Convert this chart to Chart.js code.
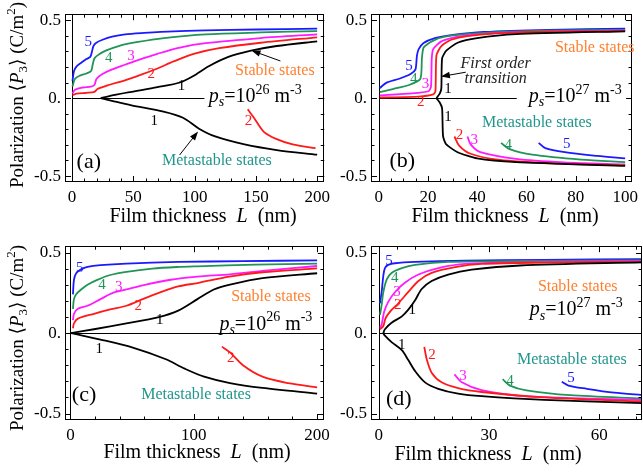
<!DOCTYPE html>
<html>
<head>
<meta charset="utf-8">
<script src="https://cdn.jsdelivr.net/npm/chart.js@4.4.0/dist/chart.umd.min.js"></script>
<style>
  body { margin: 0; background: #fff; }
  #wrap { position: relative; width: 643px; height: 472px; overflow: hidden; background: #fff; }
  canvas { position: absolute; }
</style>
</head>
<body>
<div id="wrap">
  <canvas id="chartA" width="335" height="232" style="left:0;top:0"></canvas>
  <canvas id="chartB" width="308" height="232" style="left:335px;top:0"></canvas>
  <canvas id="chartC" width="335" height="240" style="left:0;top:232px"></canvas>
  <canvas id="chartD" width="308" height="240" style="left:335px;top:232px"></canvas>
</div>
<script>
// --- colors ---
const BLUE = "#1a1aff", GREEN = "#1f9556", MAGENTA = "#ff1aff", RED = "#ff1a1a", BLACK = "#000";
const ORANGE = "#ff8030", TEAL = "#1f968c";
const FONT = '"Liberation Serif", "DejaVu Serif", serif';

// --- tick labels ---
const yTicks = [-0.5, 0, 0.5];
const xTicksA = [0, 50, 100, 150, 200];
const xTicksB = [0, 20, 40, 60, 80, 100];
const xTicksC = [0, 100, 200];
const xTicksD = [0, 30, 60];

// --- panel (a): ps = 1e26, L up to 200 nm ---
const a5L = [0.3, 1.6, 3.7, 7.7, 11.6, 14.8, 16.1, 17.4, 19.5, 24.8, 32.7, 43.2, 59, 82.8, 109, 150, 200];
const a5P = [0.11, 0.174, 0.204, 0.228, 0.25, 0.264, 0.294, 0.334, 0.354, 0.374, 0.394, 0.409, 0.418, 0.428, 0.434, 0.44, 0.445];
const a4L = [0.3, 2.4, 6.3, 11.6, 15.5, 16.8, 18.2, 20.8, 27.4, 38, 53.8, 74.9, 109, 154, 200];
const a4P = [0.074, 0.124, 0.144, 0.158, 0.174, 0.214, 0.254, 0.274, 0.304, 0.334, 0.36, 0.385, 0.409, 0.421, 0.43];
const a3L = [0.3, 2.4, 8.9, 15.5, 18.2, 20, 24.8, 32.7, 43.2, 53.8, 69.6, 88, 109, 154, 200];
const a3P = [0.03, 0.054, 0.068, 0.074, 0.084, 0.124, 0.154, 0.184, 0.214, 0.244, 0.284, 0.324, 0.352, 0.385, 0.409];
const a2L = [0.3, 3.7, 11.6, 18.2, 20.8, 30, 43.2, 56.4, 69.6, 82.8, 100, 120, 154, 200];
const a2P = [0.018, 0.028, 0.034, 0.04, 0.058, 0.084, 0.114, 0.15, 0.19, 0.235, 0.285, 0.32, 0.355, 0.39];
const a1L = [23.4, 35, 48.5, 69.6, 88, 98.6, 111.5, 127.5, 146, 167, 200];
const a1P = [0, 0.02, 0.04, 0.07, 0.1, 0.14, 0.204, 0.264, 0.304, 0.334, 0.364];
const a1mL = [23.4, 35, 48.5, 74.6, 90.5, 103.6, 116.8, 140.7, 167, 200];
const a1mP = [0, -0.022, -0.046, -0.087, -0.126, -0.196, -0.246, -0.297, -0.333, -0.363];
const a2mL = [143.3, 148.4, 156.5, 167, 180, 198.7];
const a2mP = [-0.072, -0.126, -0.216, -0.263, -0.297, -0.321];

// --- panel (b): ps = 1e27, L up to 100 nm ---
const b5L = [0.4, 3, 8.3, 12.9, 14.9, 15.5, 16.2, 18.2, 22.8, 29.4, 42.6, 68.9, 100];
const b5P = [0.064, 0.098, 0.124, 0.154, 0.184, 0.274, 0.314, 0.354, 0.385, 0.404, 0.424, 0.438, 0.445];
const b4L = [0.4, 5.7, 12.3, 16.9, 17.5, 18.2, 21.5, 26.8, 42.6, 70, 100];
const b4P = [0.038, 0.058, 0.084, 0.124, 0.254, 0.324, 0.364, 0.394, 0.418, 0.432, 0.438];
const b3L = [0.4, 13.6, 20.2, 21.2, 21.5, 22.1, 25.4, 32, 49.1, 75, 100];
const b3P = [0.018, 0.03, 0.044, 0.074, 0.254, 0.314, 0.364, 0.394, 0.418, 0.428, 0.434];
const b2L = [0.4, 16.2, 22.1, 23, 23.4, 25.4, 29.4, 36, 55.7, 100];
const b2P = [0.004, 0.01, 0.024, 0.044, 0.274, 0.334, 0.374, 0.398, 0.422, 0.43];
const b1L = [23.4, 24.8, 25.4, 25.7, 27.4, 32, 39.9, 55.7, 100];
const b1P = [0, 0.03, 0.064, 0.254, 0.304, 0.355, 0.385, 0.41, 0.428];
const b1mL = [23.4, 24.8, 25.7, 26.1, 27.4, 32, 39.9, 55.7, 100];
const b1mP = [0, -0.03, -0.066, -0.246, -0.297, -0.347, -0.387, -0.411, -0.435];
const b2mL = [30.7, 32.7, 37.3, 49.1, 70, 100];
const b2mP = [-0.246, -0.306, -0.357, -0.397, -0.418, -0.43];
const b3mL = [36, 37.3, 41.2, 55.7, 75, 100];
const b3mP = [-0.246, -0.297, -0.347, -0.39, -0.412, -0.425];
const b4mL = [49.6, 53.1, 62.3, 82.1, 100];
const b4mP = [-0.287, -0.327, -0.363, -0.395, -0.41];
const b5mL = [64.9, 67.6, 75.5, 88.7, 100];
const b5mP = [-0.287, -0.321, -0.347, -0.371, -0.387];

// --- panel (c): ps = 1e26 ---
const c5L = [2.1, 2.9, 4.7, 8.7, 13.9, 24.4, 45.4, 87.4, 140, 200];
const c5P = [0.241, 0.331, 0.372, 0.396, 0.411, 0.422, 0.432, 0.442, 0.447, 0.452];
const c4L = [2.1, 2.9, 4.7, 8.7, 13.9, 21.8, 32.3, 45.4, 66.4, 87.4, 103, 150, 200];
const c4P = [0.151, 0.211, 0.241, 0.271, 0.301, 0.331, 0.361, 0.381, 0.401, 0.411, 0.415, 0.425, 0.432];
const c3L = [2.1, 2.9, 6.1, 13.9, 24.4, 34.9, 45.4, 61.2, 80, 103, 129.4, 160, 200];
const c3P = [0.08, 0.12, 0.151, 0.17, 0.211, 0.251, 0.271, 0.301, 0.33, 0.351, 0.365, 0.39, 0.417];
const c2L = [2.1, 2.9, 6.1, 19.1, 32.3, 45.4, 58.5, 71.7, 87.4, 103, 129, 155.7, 200];
const c2P = [0.03, 0.06, 0.09, 0.12, 0.147, 0.17, 0.211, 0.25, 0.29, 0.311, 0.351, 0.378, 0.402];
const c1L = [0.5, 19.1, 45.4, 71.7, 87.4, 103, 116.3, 129.4, 155.7, 200];
const c1P = [0, 0.024, 0.06, 0.1, 0.14, 0.211, 0.271, 0.301, 0.341, 0.372];
const c1mL = [0.5, 24.4, 50.6, 76.9, 92.7, 108.4, 129.4, 155.7, 200];
const c1mP = [0, -0.04, -0.09, -0.161, -0.221, -0.271, -0.311, -0.341, -0.376];
const c2mL = [122.8, 129.4, 139.9, 155.7, 176.6, 200];
const c2mP = [-0.084, -0.12, -0.2, -0.271, -0.311, -0.337];

// --- panel (d): ps = 1e27 ---
const d5L = [0.35, 0.8, 1.25, 1.7, 2.6, 4.4, 9.9, 23.5, 45, 72];
const d5P = [0.184, 0.254, 0.354, 0.404, 0.424, 0.434, 0.442, 0.45, 0.455, 0.46];
const d4L = [0.35, 0.8, 1.25, 2.2, 3.5, 6.3, 9.9, 18.9, 40, 72];
const d4P = [0.114, 0.174, 0.254, 0.334, 0.374, 0.404, 0.424, 0.442, 0.448, 0.452];
const d3L = [0.35, 0.8, 1.5, 2.6, 4.4, 7.2, 10.8, 16.2, 23.5, 45, 72];
const d3P = [0.034, 0.054, 0.134, 0.194, 0.254, 0.314, 0.364, 0.404, 0.43, 0.442, 0.447];
const d2L = [0.35, 1.25, 1.9, 3.5, 5.3, 8, 10.8, 14.4, 20.8, 28, 45, 72];
const d2P = [0.024, 0.044, 0.094, 0.144, 0.184, 0.254, 0.324, 0.374, 0.41, 0.43, 0.438, 0.443];
const d1L = [1.25, 1.7, 3.5, 6.3, 8, 9.9, 11.7, 14.4, 18.9, 25.3, 38.4, 72];
const d1P = [0, 0.024, 0.064, 0.104, 0.144, 0.204, 0.274, 0.324, 0.364, 0.394, 0.42, 0.44];
const d1mL = [1.25, 1.7, 3.5, 6.3, 8, 9.9, 12.6, 16.2, 21.6, 28, 45, 72];
const d1mP = [0, -0.016, -0.056, -0.106, -0.166, -0.236, -0.306, -0.346, -0.376, -0.392, -0.415, -0.436];
const d2mL = [12.4, 13.1, 14.4, 17.1, 21.6, 28, 45, 72];
const d2mP = [-0.086, -0.166, -0.246, -0.306, -0.342, -0.366, -0.4, -0.426];
const d3mL = [20.6, 22.6, 28, 38.4, 55, 72];
const d3mP = [-0.256, -0.306, -0.355, -0.39, -0.405, -0.416];
const d4mL = [33.7, 35.7, 40.2, 52, 72];
const d4mP = [-0.286, -0.326, -0.356, -0.386, -0.406];
const d5mL = [49.8, 51.6, 56.6, 64, 72];
const d5mP = [-0.302, -0.326, -0.346, -0.37, -0.386];

// --- helpers ---
function line(xs, ys, color, tension) {
  return {
    data: xs.map((v, i) => ({ x: v, y: ys[i] })),
    borderColor: color, showLine: true, pointRadius: 0,
    borderWidth: 1.8, tension: tension
  };
}

// text in pieces: strings or {t, i: italic, sub, sup}
function richText(ctx, x, y, parts, size, color, align) {
  const list = parts.map(p => typeof p === "string" ? { t: p } : Object.assign({}, p));
  const font = p => `${p.i ? "italic " : ""}${(p.sub || p.sup) ? Math.round(size * 0.68) : size}px ${FONT}`;
  let w = 0;
  list.forEach(p => { ctx.font = font(p); p.w = ctx.measureText(p.t).width; w += p.w; });
  let cx = align === "center" ? x - w / 2 : x;
  ctx.fillStyle = color;
  ctx.textAlign = "left";
  ctx.textBaseline = "alphabetic";
  list.forEach(p => {
    ctx.font = font(p);
    const dy = p.sub ? size * 0.22 : p.sup ? -size * 0.42 : 0;
    ctx.fillText(p.t, cx, y + dy);
    cx += p.w;
  });
}

function arrow(ctx, x1, y1, x2, y2) {
  const ang = Math.atan2(y2 - y1, x2 - x1);
  ctx.strokeStyle = "#000"; ctx.fillStyle = "#000"; ctx.lineWidth = 1;
  ctx.beginPath(); ctx.moveTo(x1, y1); ctx.lineTo(x2 - 6 * Math.cos(ang), y2 - 6 * Math.sin(ang)); ctx.stroke();
  ctx.beginPath();
  ctx.moveTo(x2, y2);
  ctx.lineTo(x2 - 9 * Math.cos(ang) + 3.2 * Math.sin(ang), y2 - 9 * Math.sin(ang) - 3.2 * Math.cos(ang));
  ctx.lineTo(x2 - 9 * Math.cos(ang) - 3.2 * Math.sin(ang), y2 - 9 * Math.sin(ang) + 3.2 * Math.cos(ang));
  ctx.closePath(); ctx.fill();
}

const isMul = (v, m) => Math.abs(v / m - Math.round(v / m)) < 1e-6;

// annotation setup per canvas (kept outside chart options, the option proxy mangles mixed arrays)
const decor = {};

// --- frame, axes, ticks and labels (Mathematica style) ---
const framePlugin = {
  id: "frame",
  beforeDatasetsDraw(chart) {
    const o = decor[chart.canvas.id];
    const { ctx, chartArea: a, scales: { x, y } } = chart;
    const x0 = Math.round(x.getPixelForValue(0)) + 0.5;
    const y0 = Math.round(y.getPixelForValue(0)) + 0.5;
    ctx.save();
    ctx.strokeStyle = "#000"; ctx.lineWidth = 1;
    ctx.beginPath();
    ctx.moveTo(x0, a.top); ctx.lineTo(x0, a.bottom);
    ctx.moveTo(x0, y0); ctx.lineTo(o.zeroEnd != null ? x.getPixelForValue(o.zeroEnd) : a.right, y0);
    ctx.stroke();
    ctx.restore();
  },
  afterDraw(chart) {
    const o = decor[chart.canvas.id];
    const { ctx, chartArea: a, scales: { x, y } } = chart;
    ctx.save();
    ctx.strokeStyle = "#000"; ctx.lineWidth = 1;
    ctx.strokeRect(Math.round(a.left) + 0.5, Math.round(a.top) + 0.5, Math.round(a.right - a.left) - 1, Math.round(a.bottom - a.top) - 1);
    ctx.beginPath();
    for (let v = 0; v <= o.xEnd + 1e-9; v += o.xMinor) {
      const px = Math.round(x.getPixelForValue(v)) + 0.5;
      const len = isMul(v, o.xMajor) ? 6 : 3.5;
      ctx.moveTo(px, a.bottom); ctx.lineTo(px, a.bottom - len);
      ctx.moveTo(px, a.top); ctx.lineTo(px, a.top + len);
    }
    for (let k = -5; k <= 5; k++) {
      const py = Math.round(y.getPixelForValue(k / 10)) + 0.5;
      const len = k % 5 === 0 ? 6 : 3.5;
      ctx.moveTo(a.left, py); ctx.lineTo(a.left + len, py);
      ctx.moveTo(a.right, py); ctx.lineTo(a.right - len, py);
    }
    ctx.stroke();

    // curve numbers
    ctx.textAlign = "center"; ctx.textBaseline = "middle";
    ctx.font = `15px ${FONT}`;
    o.nums.forEach(n => {
      ctx.fillStyle = n.c;
      ctx.fillText(n.t, x.getPixelForValue(n.x), y.getPixelForValue(n.y));
    });

    // annotation texts (anchored in data units)
    o.texts.forEach(t => {
      richText(ctx, x.getPixelForValue(t.x), y.getPixelForValue(t.y), t.parts, t.size, t.color, "left");
    });
    (o.arrows || []).forEach(r => {
      arrow(ctx, x.getPixelForValue(r[0]), y.getPixelForValue(r[1]), x.getPixelForValue(r[2]), y.getPixelForValue(r[3]));
    });

    // axis titles
    richText(ctx, o.xTitle[0], o.xTitle[1], ["Film thickness  ", { t: "L", i: true }, "  (nm)"], 20, "#000", "center");
    if (o.yTitle) {
      ctx.translate(o.yTitle[0], o.yTitle[1]);
      ctx.rotate(-Math.PI / 2);
      richText(ctx, 0, 0, ["Polarization \u27E8", { t: "P", i: true }, { t: "3", sub: true }, "\u27E9 (C/m", { t: "2", sup: true }, ")"], 19, "#000", "center");
    }
    ctx.restore();
  }
};

function makeChart(id, datasets, cfg) {
  decor[id] = cfg.frame;
  new Chart(document.getElementById(id), {
    type: "scatter",
    data: { datasets },
    plugins: [framePlugin],
    options: {
      responsive: false,
      animation: false,
      layout: { padding: { top: cfg.padTop, right: cfg.padRight, left: 0, bottom: 0 } },
      plugins: { legend: { display: false }, tooltip: { enabled: false } },
      scales: {
        x: {
          type: "linear", min: cfg.xMin, max: cfg.xMax,
          grid: { display: false, drawTicks: false }, border: { display: false },
          ticks: { color: "#000", font: { family: FONT, size: 17 }, padding: 5 },
          afterBuildTicks: s => { s.ticks = cfg.xTicks.map(v => ({ value: v })); },
          afterFit: s => { s.height = cfg.xAxisH; }
        },
        y: {
          type: "linear", min: cfg.yMin, max: cfg.yMax,
          grid: { display: false, drawTicks: false }, border: { display: false },
          ticks: { color: "#000", font: { family: FONT, size: 17 }, padding: 4,
                   callback: v => v === 0 ? "0." : String(v) },
          afterBuildTicks: s => { s.ticks = yTicks.map(v => ({ value: v })); },
          afterFit: s => { s.width = cfg.yAxisW; }
        }
      }
    }
  });
}

const ps26 = [{ t: "p", i: true }, { t: "s", i: true, sub: true }, "=10", { t: "26", sup: true }, " m", { t: "-3", sup: true }];
const ps27 = [{ t: "p", i: true }, { t: "s", i: true, sub: true }, "=10", { t: "27", sup: true }, " m", { t: "-3", sup: true }];

// --- (a) ---
makeChart("chartA", [
  line(a1L, a1P, BLACK, 0.3), line(a1mL, a1mP, BLACK, 0.3), line(a2mL, a2mP, RED, 0.3),
  line(a2L, a2P, RED, 0.3), line(a3L, a3P, MAGENTA, 0.3), line(a4L, a4P, GREEN, 0.3), line(a5L, a5P, BLUE, 0.3)
], {
  padTop: 3, padRight: 3, xAxisH: 50, yAxisW: 65,
  xMin: -5.78, xMax: 205.8, yMin: -0.538, yMax: 0.538, xTicks: xTicksA,
  frame: {
    xEnd: 200, xMinor: 10, xMajor: 50, zeroEnd: 108,
    xTitle: [203, 222], yTitle: [23, 95],
    nums: [
      { t: "5", x: 13.2, y: 0.36, c: BLUE }, { t: "4", x: 29.9, y: 0.256, c: GREEN },
      { t: "3", x: 48.1, y: 0.269, c: MAGENTA }, { t: "2", x: 64.7, y: 0.154, c: RED },
      { t: "1", x: 89.3, y: 0.075, c: BLACK }, { t: "1", x: 67.1, y: -0.148, c: BLACK },
      { t: "2", x: 144, y: -0.148, c: RED }
    ],
    texts: [
      { x: 133, y: 0.146, parts: ["Stable states"], size: 16, color: ORANGE },
      { x: 111.5, y: -0.025, parts: ps26, size: 20, color: "#000" },
      { x: 73.4, y: -0.427, parts: ["Metastable states"], size: 16, color: TEAL },
      { x: 3.7, y: -0.448, parts: ["(a)"], size: 22, color: "#000" }
    ],
    arrows: [[170, 0.238, 146.4, 0.305], [87.7, -0.365, 102.8, -0.214]]
  }
});

// --- (b) ---
makeChart("chartB", [
  line(b1L, b1P, BLACK, 0.2), line(b1mL, b1mP, BLACK, 0.2),
  line(b2mL, b2mP, RED, 0.3), line(b3mL, b3mP, MAGENTA, 0.3), line(b4mL, b4mP, GREEN, 0.3), line(b5mL, b5mP, BLUE, 0.3),
  line(b2L, b2P, RED, 0.2), line(b3L, b3P, MAGENTA, 0.2), line(b4L, b4P, GREEN, 0.2), line(b5L, b5P, BLUE, 0.2)
], {
  padTop: 3, padRight: 4, xAxisH: 50, yAxisW: 36,
  xMin: -3.16, xMax: 102.8, yMin: -0.538, yMax: 0.538, xTicks: xTicksB,
  frame: {
    xEnd: 100, xMinor: 5, xMajor: 20, zeroEnd: 56,
    xTitle: [170, 222], yTitle: null,
    nums: [
      { t: "5", x: 12.3, y: 0.208, c: BLUE }, { t: "4", x: 14.2, y: 0.124, c: GREEN },
      { t: "3", x: 19, y: 0.088, c: MAGENTA }, { t: "2", x: 17, y: -0.027, c: RED },
      { t: "1", x: 28.1, y: 0.057, c: BLACK }, { t: "1", x: 28.1, y: -0.124, c: BLACK },
      { t: "2", x: 32.8, y: -0.238, c: RED }, { t: "3", x: 38.7, y: -0.269, c: MAGENTA },
      { t: "4", x: 52.6, y: -0.299, c: GREEN }, { t: "5", x: 76.3, y: -0.293, c: BLUE }
    ],
    texts: [
      { x: 71.5, y: 0.293, parts: ["Stable states"], size: 16, color: ORANGE },
      { x: 60.9, y: -0.025, parts: ps27, size: 20, color: "#000" },
      { x: 41.9, y: -0.186, parts: ["Metastable states"], size: 16, color: TEAL },
      { x: 33.2, y: 0.19, parts: [{ t: "First order", i: true }], size: 16, color: "#222" },
      { x: 34.8, y: 0.094, parts: [{ t: "transition", i: true }], size: 16, color: "#222" },
      { x: 4.3, y: -0.442, parts: ["(b)"], size: 22, color: "#000" }
    ],
    arrows: [[35.3, 0.166, 25.2, 0.138]]
  }
});

// --- (c) ---
makeChart("chartC", [
  line(c1L, c1P, BLACK, 0.3), line(c1mL, c1mP, BLACK, 0.3), line(c2mL, c2mP, RED, 0.3),
  line(c2L, c2P, RED, 0.3), line(c3L, c3P, MAGENTA, 0.3), line(c4L, c4P, GREEN, 0.3), line(c5L, c5P, BLUE, 0.3)
], {
  padTop: 8, padRight: 5, xAxisH: 52, yAxisW: 65,
  xMin: -4.36, xMax: 205.5, yMin: -0.54, yMax: 0.54, xTicks: xTicksC,
  frame: {
    xEnd: 200, xMinor: 20, xMajor: 100, zeroEnd: null,
    xTitle: [197, 226], yTitle: [23, 106],
    nums: [
      { t: "5", x: 7.5, y: 0.402, c: BLUE }, { t: "4", x: 25.7, y: 0.3, c: GREEN },
      { t: "3", x: 39.2, y: 0.288, c: MAGENTA }, { t: "2", x: 55, y: 0.168, c: RED },
      { t: "1", x: 72.5, y: 0.084, c: BLACK }, { t: "1", x: 23.4, y: -0.102, c: BLACK },
      { t: "2", x: 130, y: -0.156, c: RED }
    ],
    texts: [
      { x: 130.3, y: 0.2, parts: ["Stable states"], size: 16, color: ORANGE },
      { x: 120.8, y: 0.02, parts: ps26, size: 20, color: "#000" },
      { x: 57.4, y: -0.41, parts: ["Metastable states"], size: 16, color: TEAL },
      { x: 1.2, y: -0.424, parts: ["(c)"], size: 22, color: "#000" }
    ]
  }
});

// --- (d) ---
makeChart("chartD", [
  line(d1L, d1P, BLACK, 0.3), line(d1mL, d1mP, BLACK, 0.3),
  line(d2mL, d2mP, RED, 0.3), line(d3mL, d3mP, MAGENTA, 0.3), line(d4mL, d4mP, GREEN, 0.3), line(d5mL, d5mP, BLUE, 0.3),
  line(d2L, d2P, RED, 0.3), line(d3L, d3P, MAGENTA, 0.3), line(d4L, d4P, GREEN, 0.3), line(d5L, d5P, BLUE, 0.3)
], {
  padTop: 8, padRight: 1, xAxisH: 52, yAxisW: 36,
  xMin: -2.09, xMax: 71.6, yMin: -0.54, yMax: 0.54, xTicks: xTicksD,
  frame: {
    xEnd: 70, xMinor: 5, xMajor: 30, zeroEnd: null,
    xTitle: [153, 228], yTitle: null,
    nums: [
      { t: "5", x: 2.8, y: 0.45, c: BLUE }, { t: "4", x: 4.4, y: 0.342, c: GREEN },
      { t: "3", x: 5, y: 0.256, c: MAGENTA }, { t: "2", x: 5.2, y: 0.172, c: RED },
      { t: "1", x: 9.1, y: 0.142, c: BLACK }, { t: "1", x: 6.3, y: -0.072, c: BLACK },
      { t: "2", x: 14.5, y: -0.138, c: RED }, { t: "3", x: 22.9, y: -0.27, c: MAGENTA },
      { t: "4", x: 35.7, y: -0.3, c: GREEN }, { t: "5", x: 52.3, y: -0.282, c: BLUE }
    ],
    texts: [
      { x: 43.3, y: 0.26, parts: ["Stable states"], size: 16, color: ORANGE },
      { x: 41.1, y: 0.11, parts: ps27, size: 20, color: "#000" },
      { x: 37.6, y: -0.194, parts: ["Metastable states"], size: 16, color: TEAL },
      { x: 2, y: -0.444, parts: ["(d)"], size: 22, color: "#000" }
    ]
  }
});
</script>
</body>
</html>
